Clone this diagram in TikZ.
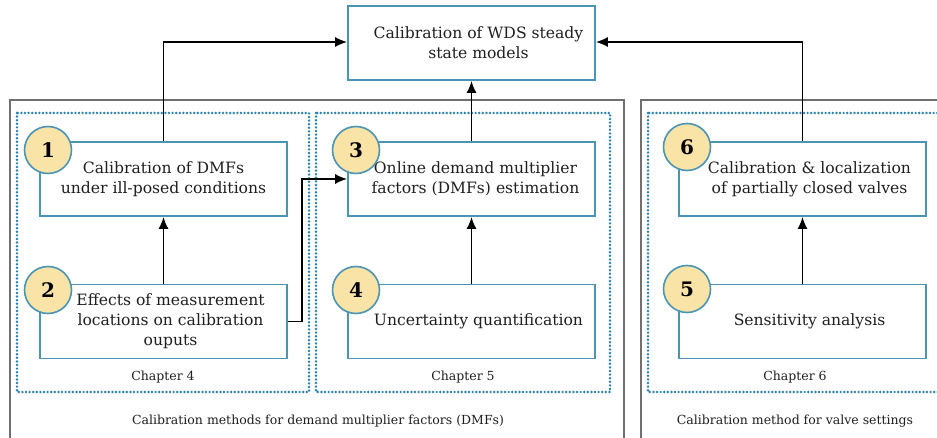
\documentclass[tikz,border=0pt]{standalone}
\usepackage{fontspec}
\setmainfont{DejaVu Serif}
\usetikzlibrary{arrows.meta}
\definecolor{boxc}{HTML}{4A95B5}
\definecolor{dotc}{HTML}{2A80B0}
\definecolor{circf}{HTML}{F9E3A6}
\definecolor{grayc}{HTML}{707070}
\tikzset{
  procbox/.style={draw=boxc, line width=1.7pt, fill=white, minimum width=247pt, minimum height=74pt, inner sep=0pt},
  boxtext/.style={font=\fontsize{15.6}{20}\selectfont, align=center, text=black!88},
  numc/.style={circle, draw=boxc, line width=1.6pt, fill=circf, minimum size=47pt, inner sep=0pt, font=\fontsize{20}{20}\selectfont\bfseries},
  dotbox/.style={draw=dotc, line width=2.7pt, dash pattern=on 0pt off 3.6pt, line cap=round},
  grp/.style={draw=grayc, line width=1.2pt},
  conn/.style={draw=black, line width=1.6pt},
  arr/.style={conn, -{Latex[length=12pt,width=10pt]}},
  small/.style={font=\fontsize{12.5}{15}\selectfont, text=black!88}
}
\begin{document}
\begin{tikzpicture}[x=1pt,y=-1pt]
\useasboundingbox (0,0) rectangle (937,438);
\fill[white] (0,0) rectangle (937,438);
\begin{scope}
\clip (0,0) rectangle (937,438);
\draw[grp] (10,450) -- (10,100) -- (624,100) -- (624,450);
\draw[grp] (641,450) -- (641,100) -- (950,100);
\draw[dotbox] (17,113) rectangle (309,392);
\draw[dotbox] (316,113) rectangle (610,392);
\draw[dotbox] (648,113) rectangle (960,392);
\end{scope}

% top box
\node[procbox, label={[boxtext, xshift=7pt]center:Calibration of WDS steady\\state models}] (top) at (471.5,43) {};

% process boxes
\node[procbox, label={[boxtext]center:Calibration of DMFs\\under ill-posed conditions}] (b1) at (163.5,179) {};
\node[procbox, label={[boxtext, xshift=7pt]center:Effects of measurement\\locations on calibration\\ouputs}] (b2) at (163.5,321.5) {};
\node[procbox, label={[boxtext, xshift=4pt]center:Online demand multiplier\\factors (DMFs) estimation}] (b3) at (471.5,179) {};
\node[procbox, label={[boxtext, xshift=7pt]center:Uncertainty quantification}] (b4) at (471.5,321.5) {};
\node[procbox, label={[boxtext, xshift=7pt]center:Calibration \& localization\\of partially closed valves}] (b6) at (802.5,179) {};
\node[procbox, label={[boxtext, xshift=7pt]center:Sensitivity analysis}] (b5) at (802.5,321.5) {};

% number circles
\node[numc] (c1) at (48,150) {1};
\node[numc] (c2) at (48,290) {2};
\node[numc] (c3) at (356,150) {3};
\node[numc] (c4) at (356,290) {4};
\node[numc] (c6) at (687,147) {6};
\node[numc] (c5) at (687,289) {5};

% chapter labels
\node[small] (ch4) at (163,377) {Chapter 4};
\node[small] (ch5) at (463,377) {Chapter 5};
\node[small] (ch6) at (795,377) {Chapter 6};
\node[small] (g1) at (318,421) {Calibration methods for demand multiplier factors (DMFs)};
\node[small] (g2) at (795,421) {Calibration method for valve settings};

% connectors
\coordinate (k1) at (163.5,42);
\coordinate (k6) at (802.5,42);
\draw[arr] (b1.north) -- (k1) -- (top.west |- k1);
\draw[arr] (b6.north) -- (k6) -- (top.east |- k6);
\draw[arr] (b3.north) -- (top.south);
\draw[arr] (b2.north) -- (b1.south);
\draw[arr] (b4.north) -- (b3.south);
\draw[arr] (b5.north) -- (b6.south);
\coordinate (j) at (302,321.5);
\draw[arr] (b2.east) -- (j) |- (b3.west);
\end{tikzpicture}
\end{document}
